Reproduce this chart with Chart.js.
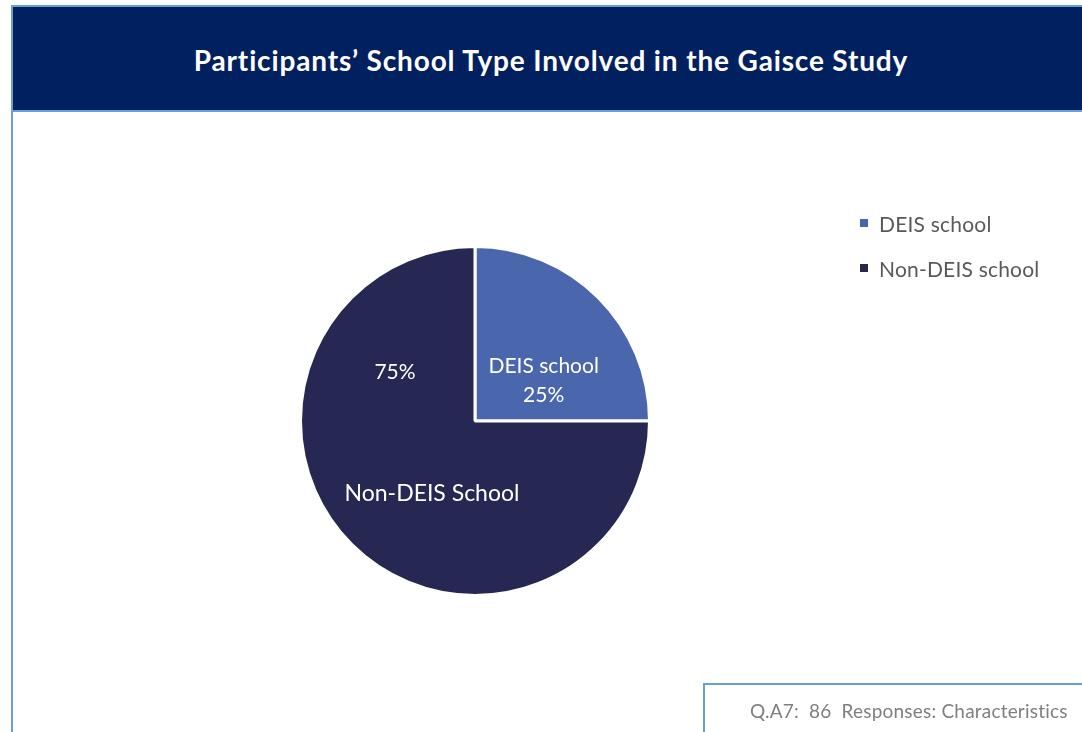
<!DOCTYPE html>
<html lang="en">
<head>
    <meta charset="UTF-8">
    <title>Participants' School Type</title>
    <script src="https://cdn.jsdelivr.net/npm/chart.js"></script>
    <style>
        html, body { margin: 0; padding: 0; background: #fff; overflow: hidden; }
        body { width: 1082px; height: 732px; position: relative; font-family: Lato, "Open Sans", sans-serif; }
        /* header bar */
        .header {
            position: absolute; left: 11px; top: 5px; width: 1090px; height: 103px;
            background: #012060; border: 2px solid #6a9fd6;
            display: flex; align-items: center; justify-content: center;
        }
        .header h1 { margin: 0; color: #fff; font-size: 28px; letter-spacing: 0.85px; font-weight: bold; transform: translate(-7px, 1px); }
        .frame-left { position: absolute; left: 11px; top: 112px; width: 2px; height: 640px; background: #6a9fd6; }
        .footer {
            position: absolute; left: 703px; top: 683px; width: 400px; height: 80px;
            border-left: 2px solid #6a9fd6; border-top: 2px solid #6a9fd6;
        }
        .footer span { position: absolute; left: 45px; top: 14px; color: #7f7f7f; font-size: 19px; letter-spacing: 0.2px; white-space: pre; }
        #chart { position: absolute; left: 13px; top: 112px; }
        /* legend */
        #legend { position: absolute; left: 860px; top: 209px; }
        #legend div { display: flex; align-items: center; height: 28px; margin-bottom: 17px; color: #595959; font-size: 21px; letter-spacing: 0.2px; }
        #legend i { display: inline-block; width: 8px; height: 8px; margin-right: 11px; }
    </style>
</head>
<body>
    <div class="header"><h1>Participants’ School Type Involved in the Gaisce Study</h1></div>
    <div class="frame-left"></div>
    <canvas id="chart" width="1069" height="620"></canvas>
    <div id="legend"></div>
    <div class="footer"><span>Q.A7:  86  Responses: Characteristics</span></div>

    <script>
        // dati del grafico
        const categories = ['DEIS school', 'Non-DEIS school'];
        const shares = [25, 75];
        const sliceColors = ['#4a67ae', '#262853'];
        // etichette scritte sulle fette
        const sliceNames = ['DEIS school', 'Non-DEIS School'];

        // etichette dentro la torta (nome + percentuale)
        const sliceLabels = {
            id: 'sliceLabels',
            afterDatasetsDraw(chart) {
                const ctx = chart.ctx;
                const arcs = chart.getDatasetMeta(0).data;
                ctx.save();
                ctx.fillStyle = '#fff';
                ctx.font = '21px Lato, "Open Sans", sans-serif';
                ctx.textAlign = 'center';
                ctx.textBaseline = 'middle';

                // fetta DEIS: nome sopra, percentuale sotto
                const a = arcs[0];
                const ma = (a.startAngle + a.endAngle) / 2;
                const xa = a.x + Math.cos(ma) * a.outerRadius * 0.5 + 7;
                const ya = a.y + Math.sin(ma) * a.outerRadius * 0.5 + 22;
                ctx.fillText(sliceNames[0], xa, ya - 15);
                ctx.fillText(shares[0] + '%', xa, ya + 14);

                // fetta Non-DEIS: percentuale e nome separati
                const b = arcs[1];
                ctx.fillText(shares[1] + '%', b.x - 80, b.y - 49);
                ctx.font = '23px Lato, "Open Sans", sans-serif';
                ctx.fillText(sliceNames[1], b.x - 43, b.y + 73);
                ctx.restore();
            }
        };

        const chart = new Chart(document.getElementById('chart'), {
            type: 'pie',
            data: {
                labels: categories,
                datasets: [{
                    data: shares,
                    backgroundColor: sliceColors,
                    borderColor: '#fff',
                    borderWidth: 3
                }]
            },
            options: {
                responsive: false,
                animation: false,
                devicePixelRatio: 1,
                layout: { padding: { left: 286, right: 431, top: 133, bottom: 135 } },
                plugins: {
                    legend: { display: false },
                    tooltip: { enabled: false }
                }
            },
            plugins: [sliceLabels]
        });

        // legenda costruita dai dati del grafico
        const legendEl = document.getElementById('legend');
        categories.forEach((c, i) => {
            const row = document.createElement('div');
            row.innerHTML = `<i style="background:${sliceColors[i]}"></i>${c}`;
            legendEl.appendChild(row);
        });
    </script>
</body>
</html>
